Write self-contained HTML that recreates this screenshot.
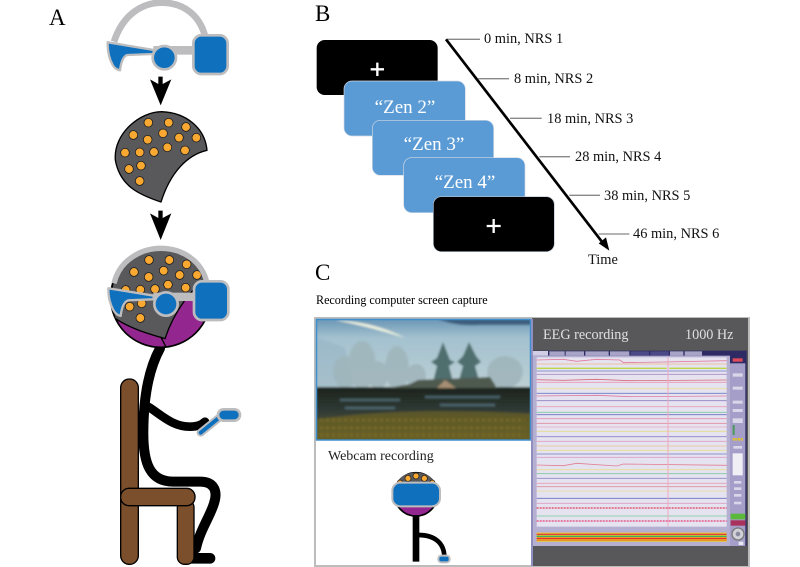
<!DOCTYPE html>
<html><head><meta charset="utf-8"><style>
html,body{margin:0;padding:0;background:#fff}
svg{display:block}
text{font-family:"Liberation Serif",serif}
</style></head><body>
<svg width="800" height="567" viewBox="0 0 800 567" xmlns="http://www.w3.org/2000/svg">
<defs>
<linearGradient id="sky" x1="0" y1="0" x2="0" y2="1"><stop offset="0" stop-color="#5f8db0"/><stop offset=".3" stop-color="#a3c1cf"/><stop offset="1" stop-color="#bdd0d4"/></linearGradient>
<linearGradient id="gnd" x1="0" y1="0" x2="0" y2="1"><stop offset="0" stop-color="#1c231c"/><stop offset=".4" stop-color="#2f3a35"/><stop offset=".65" stop-color="#4a4d32"/><stop offset="1" stop-color="#6b5e22"/></linearGradient>
<clipPath id="headclip"><circle cx="212" cy="232" r="150"/></clipPath>
<clipPath id="scene"><rect x="316" y="319" width="215" height="121"/></clipPath>
<filter id="soft" x="-5%" y="-5%" width="110%" height="110%"><feGaussianBlur stdDeviation="1"/></filter>
<filter id="soft2" x="-5%" y="-5%" width="110%" height="110%"><feGaussianBlur stdDeviation="0.5"/></filter>
</defs>
<text x="49" y="25" font-size="23">A</text>
<text x="315" y="21" font-size="23">B</text>
<text x="315" y="280" font-size="23">C</text>
<text x="316" y="304" font-size="12.1">Recording computer screen capture</text>

<!-- A top: headset, cap -->
<g transform="translate(90,0) scale(.33333)">
<path d="M72 125C100 40 160 8 215 8C285 8 330 50 345 108" fill="none" stroke="#bdbdbf" stroke-width="20"/>
<rect x="190" y="138" width="130" height="26" fill="#bdbdbf"/>
<path d="M53 127L192 150L190 162L112 165Q95 170 90 211Q75 208 68 195Q52 165 53 127Z" fill="#0f70bd" stroke="#bdbdbf" stroke-width="7" stroke-linejoin="round"/>
<circle cx="223" cy="173" r="35" fill="#0f70bd" stroke="#bdbdbf" stroke-width="8"/>
<rect x="310" y="106" width="103" height="116" rx="24" fill="#0f70bd" stroke="#bdbdbf" stroke-width="8"/>
<path d="M205 230H218V252L244 238L212 316L180 238L205 252Z" fill="#000"/>
<path d="M213 606C150 585 90 560 76 480C70 400 150 335 215 335C290 338 345 385 351 451C290 465 240 520 213 606Z" fill="#59595b" stroke="#000" stroke-width="4" stroke-linejoin="round"/>
<g fill="#f9a832" stroke="#1a1a1a" stroke-width="2.2">
<circle cx="175" cy="368" r="13"/><circle cx="236" cy="368" r="13"/><circle cx="288" cy="381" r="13"/><circle cx="130" cy="405" r="13"/><circle cx="173" cy="419" r="13"/><circle cx="219" cy="400" r="13"/><circle cx="267" cy="413" r="13"/><circle cx="319" cy="413" r="13"/><circle cx="105" cy="458" r="13"/><circle cx="149" cy="457" r="13"/><circle cx="192" cy="456" r="13"/><circle cx="232" cy="442" r="13"/><circle cx="285" cy="451" r="13"/><circle cx="117" cy="507" r="13"/><circle cx="153" cy="497" r="13"/><circle cx="149" cy="543" r="13"/>
</g>
<path d="M205 632H218V654L244 640L212 720L180 640L205 654Z" fill="#000"/>
</g>

<!-- A bottom: seated figure -->
<g transform="translate(90,220) scale(.33333)">
<!-- body -->
<g fill="none" stroke="#000" stroke-linecap="round" stroke-linejoin="round">
<path d="M210 385C180 440 160 520 160 640C160 730 180 785 250 785L330 785C370 785 385 810 372 850C360 890 330 930 318 985" stroke-width="30"/>
<path d="M178 562C220 590 250 620 300 620C320 620 335 615 345 605" stroke-width="26"/>
<path d="M300 1015H360" stroke-width="32"/>
</g>
<!-- chair -->
<g fill="#7b4f2b" stroke="#000" stroke-width="4">
<rect x="92" y="477" width="53" height="556" rx="26"/>
<rect x="262" y="840" width="50" height="193" rx="22"/>
<rect x="92" y="805" width="223" height="52" rx="25"/>
</g>
<!-- controller -->
<path d="M332 638L385 595" stroke="#bdbdbf" stroke-width="24" stroke-linecap="round"/>
<path d="M332 638L385 595" stroke="#0f70bd" stroke-width="12" stroke-linecap="round"/>
<rect x="384" y="568" width="66" height="34" rx="17" fill="#0f70bd" stroke="#bdbdbf" stroke-width="8"/>
<!-- head -->
<circle cx="212" cy="232" r="150" fill="#93278f" stroke="#000" stroke-width="5"/>
<g clip-path="url(#headclip)">
<path d="M225 356C170 340 120 325 75 295C50 220 60 90 215 85C290 85 360 130 365 170C310 190 250 280 225 356Z" fill="#59595b" stroke="#000" stroke-width="4"/>
<path d="M212 350L230 385" stroke="#000" stroke-width="4"/>
</g>
<g fill="#f9a832" stroke="#1a1a1a" stroke-width="2.2">
<circle cx="177" cy="120" r="13"/><circle cx="238" cy="120" r="13"/><circle cx="290" cy="133" r="13"/><circle cx="132" cy="156" r="13"/><circle cx="176" cy="171" r="13"/><circle cx="221" cy="152" r="13"/><circle cx="269" cy="165" r="13"/><circle cx="321" cy="165" r="13"/><circle cx="107" cy="210" r="13"/><circle cx="151" cy="209" r="13"/><circle cx="195" cy="207" r="13"/><circle cx="234" cy="194" r="13"/><circle cx="287" cy="203" r="13"/><circle cx="119" cy="260" r="13"/><circle cx="155" cy="250" r="13"/><circle cx="151" cy="294" r="13"/>
</g>
<path d="M72 190C90 115 160 85 212 85C280 85 335 125 350 185" fill="none" stroke="#bdbdbf" stroke-width="16"/>
<rect x="190" y="218" width="130" height="25" fill="#bdbdbf"/>
<path d="M55 205L192 227L190 238L115 241Q97 246 92 288Q78 285 70 270Q54 240 55 205Z" fill="#0f70bd" stroke="#bdbdbf" stroke-width="7" stroke-linejoin="round"/>
<circle cx="228" cy="252" r="35" fill="#0f70bd" stroke="#bdbdbf" stroke-width="8"/>
<rect x="312" y="184" width="103" height="116" rx="24" fill="#0f70bd" stroke="#bdbdbf" stroke-width="8"/>
</g>

<!-- B -->
<g transform="translate(310,20) scale(.33333)">
<rect x="20" y="60" width="363" height="165" rx="24" fill="#000"/>
<rect x="102" y="183" width="364" height="165" rx="24" fill="#5b9bd5" stroke="#d0d8e4" stroke-width="2"/>
<rect x="187" y="301" width="364" height="165" rx="24" fill="#5b9bd5" stroke="#d0d8e4" stroke-width="2"/>
<rect x="281" y="413" width="364" height="165" rx="24" fill="#5b9bd5" stroke="#d0d8e4" stroke-width="2"/>
<rect x="370" y="530" width="363" height="165" rx="24" fill="#000" stroke="#b8c4d4" stroke-width="2"/>
<path d="M182 148H222M202 128V168M530 618H572M551 597V639" stroke="#fff" stroke-width="7"/>
<g stroke="#888" stroke-width="4">
<path d="M412 58H510M505 176H597M600 295H695M688 410H780M778 526H870M866 642H958"/>
</g>
<path d="M408 58L885 677" stroke="#000" stroke-width="8"/>
<path d="M898 692L866 670L888 652Z" fill="#000"/>
</g>
<g fill="#fff" text-anchor="middle">
<text x="405" y="113" font-size="19">“Zen 2”</text>
<text x="434" y="150" font-size="19">“Zen 3”</text>
<text x="465" y="188" font-size="19">“Zen 4”</text>
</g>
<g font-size="14.4" fill="#111">
<text x="484" y="43">0 min, NRS 1</text>
<text x="514" y="83">8 min, NRS 2</text>
<text x="547" y="123">18 min, NRS 3</text>
<text x="575" y="161">28 min, NRS 4</text>
<text x="604" y="200">38 min, NRS 5</text>
<text x="633" y="238">46 min, NRS 6</text>
<text x="588" y="264">Time</text>
</g>

<!-- C frame -->
<rect x="315" y="318" width="434" height="248" fill="#fff" stroke="#bcbcbc" stroke-width="2"/>
<!-- scene -->
<g clip-path="url(#scene)">
<g filter="url(#soft)">
<rect x="312" y="315" width="224" height="75" fill="url(#sky)"/>
<path d="M335 320Q375 322 405 338Q375 328 335 320Z" fill="#eef2e0"/>
<path d="M312 335L345 348L355 390H312Z" fill="#97b4c4" opacity=".6"/>
<path d="M430 315H536V325H480Q450 327 430 315Z" fill="#2f4f6e" opacity=".8"/>
<g fill="#9fb5bb" opacity=".85">
<ellipse cx="345" cy="372" rx="12" ry="16"/>
<ellipse cx="362" cy="365" rx="14" ry="24"/>
<ellipse cx="378" cy="375" rx="10" ry="14"/>
<ellipse cx="397" cy="368" rx="12" ry="22"/>
<ellipse cx="416" cy="376" rx="10" ry="12"/>
<ellipse cx="505" cy="372" rx="18" ry="16"/>
</g>
<rect x="312" y="387" width="224" height="58" fill="url(#gnd)"/>
<g fill="#4f6e6e">
<path d="M443 342L450 360L455 362L449 366L453 382H433L437 366L431 362L437 358Z"/>
<path d="M469 342L476 356L481 362L475 366L479 380H459L463 366L457 362L463 356Z"/>
</g>
<path d="M388 388L410 384L418 380L440 379L470 378L490 377L497 388Z" fill="#4f5a50"/>
<path d="M437 388L445 380L456 388Z" fill="#a68e72"/>
<path d="M312 420Q400 406 536 414V445H312Z" fill="#6a6025" opacity=".75"/>
<path d="M340 400H400M425 397H500M345 408H395M440 405H495" stroke="#5b7a88" stroke-width="2.5" opacity=".7"/>
<path d="M320 420H525M320 428H525M320 435H525" stroke="#80702a" stroke-width="3" stroke-dasharray="3 3" opacity=".7"/>
</g>
</g>
<rect x="316.5" y="319.5" width="214" height="120.5" fill="none" stroke="#3c8fcf" stroke-width="1.5"/>
<text x="328" y="460" font-size="14" fill="#222">Webcam recording</text>

<!-- webcam figure -->
<g transform="translate(310,310) scale(.33333)">
<path d="M318 615V755" stroke="#000" stroke-width="20"/>
<path d="M325 675C375 675 403 700 403 742" fill="none" stroke="#000" stroke-width="14"/>
<rect x="385" y="737" width="34" height="20" rx="9" fill="#0f70bd" stroke="#bdbdbf" stroke-width="6"/>
<circle cx="318" cy="553" r="65" fill="#93278f" stroke="#000" stroke-width="5"/>
<path d="M258 525C270 495 295 488 318 488C345 488 368 500 378 525Z" fill="#59595b"/>
<g fill="#f9a832" stroke="#1a1a1a" stroke-width="2"><circle cx="294" cy="505" r="9"/><circle cx="318" cy="498" r="9"/><circle cx="343" cy="505" r="9"/><circle cx="270" cy="518" r="8"/><circle cx="367" cy="518" r="8"/></g>
<rect x="247" y="518" width="143" height="71" rx="24" fill="#0f70bd" stroke="#bdbdbf" stroke-width="6"/>
</g>

<!-- EEG panel -->
<rect x="532" y="318" width="216" height="248" fill="#58585a"/>
<rect x="531" y="319" width="2" height="247" fill="#8e8ec0"/>
<text x="543" y="339" font-size="14.2" fill="#e0e0e0">EEG recording</text>
<text x="685" y="339" font-size="14.2" fill="#e0e0e0">1000 Hz</text>
<g transform="translate(530,310) scale(.33333)" filter="url(#soft2)">
<rect x="8" y="122" width="642" height="586" fill="#2d2c63"/>
<rect x="8" y="137" width="592" height="571" fill="#b5afd2"/>
<rect x="600" y="160" width="46" height="548" fill="#a49ec8"/>
<g fill="#a8a4c8"><rect x="8" y="123" width="46" height="14" fill="#d0cde4"/><rect x="58" y="124" width="46" height="13"/><rect x="107" y="124" width="55" height="13"/><rect x="166" y="124" width="70" height="13"/><rect x="240" y="124" width="58" height="13"/><rect x="302" y="124" width="55" height="13" fill="#4c4a88"/><rect x="361" y="124" width="55" height="13" fill="#4c4a88"/><rect x="420" y="124" width="40" height="13"/><rect x="464" y="124" width="52" height="13"/></g>
<rect x="20" y="142" width="570" height="508" fill="#e6e3f0"/>
<g fill="none" stroke-width="2.5">
<path d="M20 150L100 148L140 154L200 148L270 150L280 158L400 156L590 152" stroke="#e27a9a"/>
<path d="M20 162H590" stroke="#eeb585"/>
<path d="M20 175H410M418 175H590" stroke="#b9d84a" stroke-width="4"/>
<path d="M20 183H590" stroke="#6a78c0"/>
<path d="M20 193H590" stroke="#a889c4"/>
<path d="M20 209L100 211L200 208L300 212L590 210" stroke="#d86a7a"/>
<path d="M20 217H590" stroke="#e59ab8"/>
<path d="M20 236H590" stroke="#ecdf98"/>
<path d="M20 250H590" stroke="#6e7ac4"/>
<path d="M20 258L200 256L300 260L590 258" stroke="#e07aa0"/>
<path d="M20 272H590" stroke="#8e80c0"/>
<path d="M20 290H590" stroke="#e6a0b8"/>
<path d="M20 307H590" stroke="#7ccaa0"/>
<path d="M20 314H590" stroke="#6a70c4"/>
<path d="M20 326H590" stroke="#e490b0"/>
<path d="M20 340H590" stroke="#e28a9a"/>
<path d="M20 351H590" stroke="#e8a8c0"/>
<path d="M20 364H590" stroke="#e6dd8c"/>
<path d="M20 380H590" stroke="#8a82c8"/>
<path d="M20 394H590" stroke="#e0a0c0"/>
<path d="M20 408H590" stroke="#eec08c"/>
<path d="M20 421H590" stroke="#e8e090"/>
<path d="M20 432H590" stroke="#6a78c0"/>
<path d="M20 442H590" stroke="#d8a0c8"/>
<path d="M20 465L100 467L140 460L260 468L280 462L590 466" stroke="#e08090"/>
<path d="M20 479H590" stroke="#eadf90"/>
<path d="M20 491H590" stroke="#80c8a0"/>
<path d="M20 505H590" stroke="#9088c8"/>
<path d="M20 520H590" stroke="#e8a0b8"/>
<path d="M20 530H590" stroke="#e09098"/>
<path d="M20 543H590" stroke="#e8dc90"/>
<path d="M20 565H590" stroke="#6a70c0"/>
<path d="M20 580H590" stroke="#dca0c4"/>
<path d="M20 594H590" stroke="#e03a5a" stroke-width="4" stroke-dasharray="6 3"/>
<path d="M20 618H590" stroke="#70c898"/>
<path d="M20 633H590" stroke="#e0407a" stroke-width="4" stroke-dasharray="6 3"/>
<path d="M414 142V650" stroke="#eda8c0" stroke-width="3"/>
</g>
<rect x="20" y="668" width="570" height="27" fill="#f0d020"/>
<rect x="20" y="671" width="570" height="4" fill="#e04040"/>
<rect x="20" y="677" width="570" height="4" fill="#40a860"/>
<rect x="20" y="683" width="570" height="5" fill="#e03030"/>
<rect x="20" y="690" width="570" height="3" fill="#e89020"/>
<g fill="#d8d6e8"><rect x="608" y="145" width="30" height="10" fill="#e04a5a"/><rect x="608" y="190" width="30" height="10"/><rect x="608" y="230" width="30" height="9"/><rect x="608" y="272" width="30" height="9"/><rect x="608" y="297" width="30" height="9"/><rect x="608" y="325" width="30" height="14"/><rect x="608" y="430" width="30" height="66" fill="#f0eff6"/><rect x="610" y="408" width="26" height="8"/><rect x="612" y="513" width="22" height="8"/><rect x="612" y="532" width="22" height="8"/><rect x="612" y="552" width="22" height="8"/><rect x="612" y="575" width="22" height="8"/></g>
<rect x="608" y="345" width="6" height="30" fill="#4a9a5a"/>
<path d="M608 388H640" stroke="#e0c030" stroke-width="8" stroke-dasharray="6 2"/>
<rect x="602" y="611" width="44" height="17" fill="#5ab83a"/>
<rect x="602" y="631" width="44" height="16" fill="#a8305c"/>
<circle cx="624" cy="672" r="18" fill="#d0d0d8" stroke="#777" stroke-width="4"/>
<circle cx="624" cy="672" r="7" fill="#8a8aa0"/>
<rect x="626" y="695" width="14" height="10" fill="#e8e8f0"/>
</g>
</svg>
</body></html>
